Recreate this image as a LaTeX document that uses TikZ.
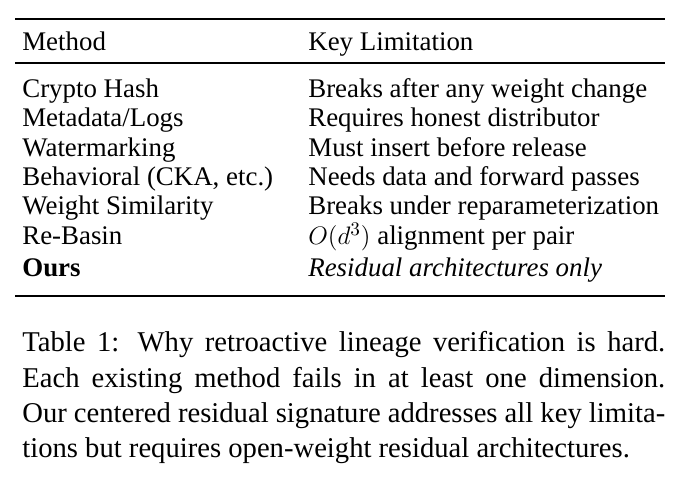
\documentclass[tikz,border=0pt]{standalone}
\usepackage{fontspec}
\setmainfont{Liberation Serif}
\usepackage{tikz}
\usetikzlibrary{positioning}
\tikzstyle{cell}=[anchor=base west,inner sep=0pt,font=\fontsize{15.3}{17}\selectfont]
\tikzstyle{capline}=[anchor=base west,inner sep=0pt,font=\fontsize{16.3}{19}\selectfont]
\tikzstyle{thickrule}=[draw,line width=1.3pt]
\tikzstyle{thinrule}=[draw,line width=0.6pt]
\begin{document}
\begin{tikzpicture}[x=0.02cm,y=-0.02cm]
      \useasboundingbox (0,0) rectangle (692,482);
      \coordinate (tl) at (15,19);
      \coordinate (tr) at (665,19);
      \coordinate (ml) at (15,63);
      \coordinate (mr) at (665,63);
      \coordinate (bl) at (15,296);
      \coordinate (br) at (665,296);
      \draw[thickrule] (tl) -- (tr);
      \draw[thinrule] (ml) -- (mr);
      \draw[thickrule] (bl) -- (br);
      \node[cell] (h1) at (22,51) {Method};
      \node[cell] (h2) at (308,51) {Key Limitation};
      \node[cell] (m1) at (22,98) {Crypto Hash};
      \node[cell] (k1) at (308,98) {Breaks after any weight change};
      \node[cell] (m2) at (22,127) {Metadata/Logs};
      \node[cell] (k2) at (308,127) {Requires honest distributor};
      \node[cell] (m3) at (22,157) {Watermarking};
      \node[cell] (k3) at (308,157) {Must insert before release};
      \node[cell] (m4) at (22,186) {Behavioral (CKA, etc.)};
      \node[cell] (k4) at (308,186) {Needs data and forward passes};
      \node[cell] (m5) at (22,215) {Weight Similarity};
      \node[cell] (k5) at (308,215) {Breaks under reparameterization};
      \node[cell] (m6) at (22,245) {Re-Basin};
      \node[cell] (k6) at (308,245) {$O(d^3)$ alignment per pair};
      \node[cell] (m7) at (22,277) {\textbf{Ours}};
      \node[cell] (k7) at (308,277) {\textit{Residual architectures only}};
      \node[capline] (c1) at (22,352) {\makebox[12.86cm][s]{Table 1: Why retroactive lineage verification is hard.}};
      \node[capline] (c2) at (22,387) {\makebox[12.86cm][s]{Each existing method fails in at least one dimension.}};
      \node[capline] (c3) at (22,422) {\makebox[12.86cm][s]{Our centered residual signature addresses all key limita-}};
      \node[capline] (c4) at (22,457) {tions but requires open-weight residual architectures.};
\end{tikzpicture}
\end{document}
